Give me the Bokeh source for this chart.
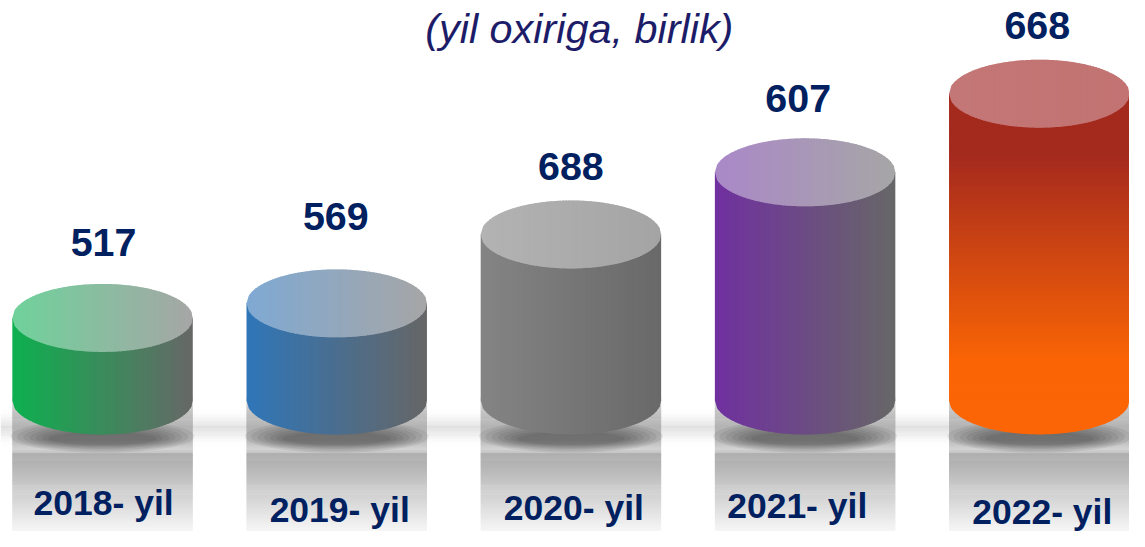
import numpy as np
from bokeh.plotting import figure
from bokeh.models import Range1d, ColumnDataSource
from bokeh.embed import file_html
from bokeh.resources import INLINE
from bokeh.core.properties import value

# ---------------- data ----------------
years = ["2018- yil", "2019- yil", "2020- yil", "2021- yil", "2022- yil"]
values = [517, 569, 688, 607, 668]
cylinder_heights = [85, 100, 171, 235, 316]   # drawn cylinder heights (chart units)
subtitle = "(yil oxiriga, birlik)"

# ---------------- styles ----------------
side_left = ["#0db04f", "#2f76b8", "#848484", "#7030a0", "#a52a1e"]
side_right = ["#676767", "#666666", "#696969", "#676767", "#fb6505"]
top_left = ["#6fd29b", "#7fa9d3", "#b3b3b3", "#aa88c8", "#c37776"]
top_right = ["#a6a6a6", "#a6a6a6", "#a4a4a4", "#a6a6a6", "#c27372"]
vertical_gradient = [False, False, False, False, True]
value_dy = [29, 40, 21, 27, 21]      # label baseline above cylinder top
value_dx = [1, -1, 0, -7, -2]
year_base = [530, 537, 535, 533, 539]
year_dx = [1, 3, 3, -8, 3]
TEXT_COLOR = "#002060"

W, H = 1129, 531
REF_W, REF_H = 1145, 547
PX0, STEP = 103.5, 237.5
BASE = 412
A = 183 / 2 / STEP       # half width in x units
B = 35                   # ellipse half depth in y units
SC = W / REF_W


def hx(c):
    return np.array([int(c[i:i + 2], 16) for i in (1, 3, 5)], dtype=float)


def lerp(c1, c2, t):
    t = min(max(t, 0.0), 1.0)
    c = hx(c1) + (hx(c2) - hx(c1)) * t
    return "#%02x%02x%02x" % tuple(int(round(v)) for v in c)


def px2x(px):
    return (px - PX0) / STEP


def fs(px):
    return "%.1fpx" % (px * SC)


p = figure(width=W, height=H,
           x_range=Range1d(px2x(0), px2x(REF_W)),
           y_range=Range1d(BASE - REF_H, BASE),
           output_backend="svg", toolbar_location=None,
           x_axis_location=None, y_axis_location=None, min_border=0)
p.grid.visible = False
p.outline_line_color = None
p.background_fill_color = "white"
p.border_fill_color = "white"

xs_pos = list(range(len(years)))

# ---- global blurred shadow band ----
band = dict(left=[], right=[], top=[], bottom=[], alpha=[])
for ref in range(405, 480):
    a = 0.08 * np.exp(-((ref - 441) / 10.0) ** 2)
    band["left"].append(px2x(0)); band["right"].append(px2x(REF_W))
    band["top"].append(BASE - ref + 1.3); band["bottom"].append(BASE - ref)
    band["alpha"].append(a)
p.quad(left="left", right="right", top="top", bottom="bottom", fill_color="black",
       fill_alpha="alpha", line_color=None, source=ColumnDataSource(band))

# ---- reflection rectangles ----
ctrl = [(410, "#d8d8d8"), (440, "#b0b0b0"), (455, "#bdbdbd"), (463, "#d3d3d3"),
        (466, "#c6c6c6"), (468, "#a9a9a9"), (547, "#f5f5f5")]


def refl_color(ref):
    for (y0, c0), (y1, c1) in zip(ctrl[:-1], ctrl[1:]):
        if y0 <= ref <= y1:
            return lerp(c0, c1, (ref - y0) / (y1 - y0))
    return ctrl[-1][1]


refl = dict(left=[], right=[], top=[], bottom=[], color=[])
for i in xs_pos:
    for ref in range(410, REF_H + 1):
        refl["left"].append(i - A); refl["right"].append(i + A)
        refl["top"].append(BASE - ref + 1.5); refl["bottom"].append(BASE - ref)
        refl["color"].append(refl_color(ref))
p.quad(left="left", right="right", top="top", bottom="bottom", fill_color="color",
       line_color=None, source=ColumnDataSource(refl))

# ---- soft shadow under each cylinder ----
sh = dict(x=[], y=[], w=[], h=[])
for i in xs_pos:
    for k in range(7):
        sh["x"].append(i); sh["y"].append(-37 - 0.4 * k)
        sh["w"].append(2 * A * (1.02 - 0.07 * k)); sh["h"].append(34 - 3.5 * k)
p.ellipse(x="x", y="y", width="w", height="h", fill_color="black", fill_alpha=0.065,
          line_color=None, source=ColumnDataSource(sh))

# ---- cylinders ----
N = 64
OV = 1.5 / STEP          # overlap of strips to hide seams
pat = dict(xs=[], ys=[], color=[])


def arc(x, cx):
    u = np.clip((x - cx) / A, -1, 1)
    return B * np.sqrt(1 - u * u)


for i, h in zip(xs_pos, cylinder_heights):
    cx = i
    if not vertical_gradient[i]:
        for k in range(N):
            x0 = cx - A + 2 * A * k / N
            x1 = min(cx - A + 2 * A * (k + 1) / N + OV, cx + A)
            xm = (x0 + x1) / 2
            t = (k + 0.5) / N
            pat["xs"].append([x0, x1, x1, xm, x0])
            pat["ys"].append([h, h, -arc(x1, cx), -arc(xm, cx), -arc(x0, cx)])
            pat["color"].append(lerp(side_left[i], side_right[i], t))
    else:
        step = 2.0
        y = 0.0
        xx = np.linspace(cx - A, cx + A, 120)
        pat["xs"].append(list(xx) + [cx + A, cx - A])
        pat["ys"].append(list(-arc(xx, cx)) + [1.5, 1.5])
        pat["color"].append(side_right[i])
        while y < h:
            y1 = min(y + step, h)
            t = (y / h - 0.12) / (0.80 - 0.12)
            pat["xs"].append([cx - A, cx + A, cx + A, cx - A])
            pat["ys"].append([y - 1.2, y - 1.2, y1, y1])
            pat["color"].append(lerp(side_right[i], side_left[i], t))
            y = y1
    # top ellipse
    for k in range(N):
        x0 = cx - A + 2 * A * k / N
        x1 = min(cx - A + 2 * A * (k + 1) / N + OV, cx + A)
        xm = (x0 + x1) / 2
        t = (k + 0.5) / N
        pat["xs"].append([x0, xm, x1, x1, xm, x0])
        pat["ys"].append([h + arc(x0, cx), h + arc(xm, cx), h + arc(x1, cx),
                          h - arc(x1, cx), h - arc(xm, cx), h - arc(x0, cx)])
        pat["color"].append(lerp(top_left[i], top_right[i], t))

p.patches(xs="xs", ys="ys", fill_color="color", line_color=None,
          source=ColumnDataSource(pat))

# ---- labels (middle baseline; y is the glyph centre) ----
vsrc = ColumnDataSource(dict(
    x=xs_pos,
    y=[h + B + d + 0.35 * 40 for h, d in zip(cylinder_heights, value_dy)],
    t=[str(v) for v in values], dx=[d * SC for d in value_dx]))
p.text(x="x", y="y", text="t", x_offset="dx", source=vsrc,
       text_font=value("Liberation Sans"), text_font_style="bold", text_font_size=fs(40),
       text_color=TEXT_COLOR, text_align="center", text_baseline="middle")

ysrc = ColumnDataSource(dict(x=xs_pos, y=[BASE - b + 0.35 * 36 for b in year_base], t=years,
                             dx=[d * SC for d in year_dx]))
p.text(x="x", y="y", text="t", x_offset="dx", source=ysrc,
       text_font=value("Liberation Sans"), text_font_style="bold", text_font_size=fs(36),
       text_color=TEXT_COLOR, text_align="center", text_baseline="middle")

p.text(x=[px2x(587)], y=[BASE - 44 + 0.35 * 42], text=[subtitle],
       text_font=value("Liberation Sans"), text_font_style="italic", text_font_size=fs(42),
       text_color="#1c1c68", text_align="center", text_baseline="middle")

open("out.html", "w").write(file_html(p, INLINE))
